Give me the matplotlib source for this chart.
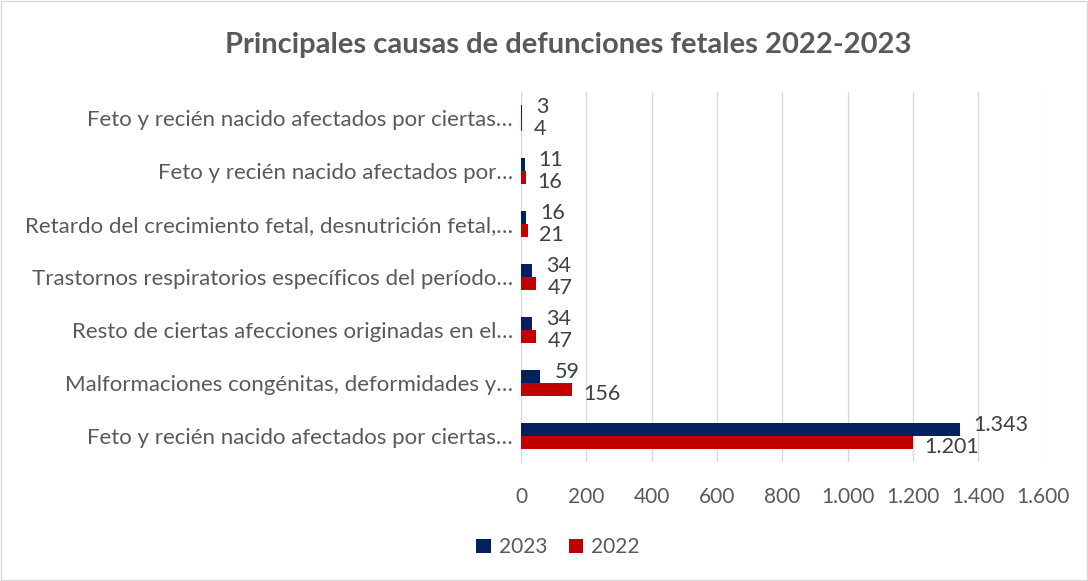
import matplotlib
matplotlib.use("Agg")
import matplotlib.pyplot as plt
from matplotlib.patches import Rectangle
import numpy as np

plt.rcParams['font.family'] = ['Lato', 'DejaVu Sans']

categories = [
    "Feto y recién nacido afectados por ciertas…",
    "Malformaciones congénitas, deformidades y…",
    "Resto de ciertas afecciones originadas en el…",
    "Trastornos respiratorios específicos del período…",
    "Retardo del crecimiento fetal, desnutrición fetal,…",
    "Feto y recién nacido afectados por…",
    "Feto y recién nacido afectados por ciertas…",
]
vals_2023 = [1343, 59, 34, 34, 16, 11, 3]
vals_2022 = [1201, 156, 47, 47, 21, 16, 4]
xticks = [0, 200, 400, 600, 800, 1000, 1200, 1400, 1600]

c2023 = "#002060"
c2022 = "#C00000"
txt = "#595959"
vtxt = "#404040"

def fmt(v):
    return f"{v:,}".replace(",", ".")

fig = plt.figure(figsize=(10.88, 5.81), dpi=100)
fig.patches.append(Rectangle((0.001, 0.001), 0.998, 0.997, transform=fig.transFigure,
                             fill=False, edgecolor="#d9d9d9", linewidth=1))
ax = fig.add_axes([0.479, 0.204, 0.48, 0.6385])

y = np.arange(len(categories))
h = 0.245
b1 = ax.barh(y + h / 2, vals_2023, height=h, color=c2023, label="2023", zorder=3)
b2 = ax.barh(y - h / 2, vals_2022, height=h, color=c2022, label="2022", zorder=3)

for yi, v in zip(y, vals_2023):
    ax.annotate(fmt(v), (v, yi + h / 2), xytext=(10, 3), textcoords="offset points",
                ha="left", va="center", fontsize=15.5, color=vtxt)
for yi, v in zip(y, vals_2022):
    ax.annotate(fmt(v), (v, yi - h / 2), xytext=(8, -3), textcoords="offset points",
                ha="left", va="center", fontsize=15.5, color=vtxt)

ax.set_xlim(0, 1600)
ax.set_ylim(-0.5, len(categories) - 0.5)
ax.set_xticks(xticks)
ax.set_xticklabels([fmt(t) for t in xticks], fontsize=15, color=txt)
ax.set_yticks(y)
ax.set_yticklabels(categories, fontsize=16, color=txt)
ax.tick_params(axis="both", length=0, pad=6)
ax.tick_params(axis="x", pad=18)
ax.grid(axis="x", color="#d9d9d9", linewidth=1, zorder=0)
for s in ["top", "right", "bottom"]:
    ax.spines[s].set_visible(False)
ax.spines["left"].set_color("#d9d9d9")

fig.text(0.522, 0.922, "Principales causas de defunciones fetales 2022-2023",
         ha="center", va="center", fontsize=21, fontweight="bold", color=txt)

fig.legend(handles=[b1, b2], labels=["2023", "2022"], loc="center",
           bbox_to_anchor=(0.513, 0.058), ncol=2, frameon=False, fontsize=15,
           handlelength=0.7, handleheight=0.7, handletextpad=0.4, columnspacing=1.0,
           labelcolor=txt)

fig.savefig("out.png", dpi=100)
